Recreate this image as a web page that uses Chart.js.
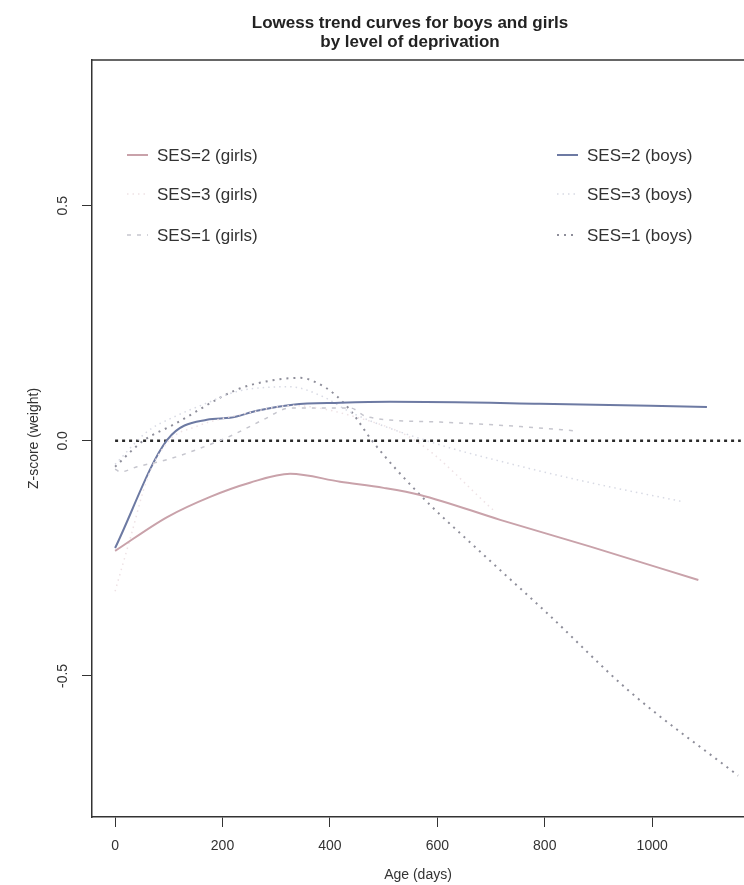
<!DOCTYPE html>
<html>
<head>
<meta charset="utf-8">
<script src="https://cdn.jsdelivr.net/npm/chart.js@4.4.0/dist/chart.umd.min.js"></script>
<style>
    html, body { margin: 0; padding: 0; background: #ffffff; }
    #wrap { width: 744px; height: 885px; }
</style>
</head>
<body>
<div id="wrap"><canvas id="lowessGrafico"></canvas></div>
<script>
const title_lines = ['Lowess trend curves for boys and girls', 'by level of deprivation'];
const x_ticks = [0, 200, 400, 600, 800, 1000];
const y_ticks = [-0.5, 0.0, 0.5];

// SES=2 girls
const girls2_age = [0, 97, 177, 251, 326, 419, 500, 568, 717, 885, 1086];
const girls2_z = [-0.234, -0.162, -0.119, -0.089, -0.070, -0.087, -0.100, -0.115, -0.168, -0.225, -0.296];

// SES=3 girls (very faint)
const girls3_age = [0, 30, 60, 100, 150, 250, 330, 450, 560, 704];
const girls3_z = [-0.32, -0.20, -0.08, 0.0, 0.03, 0.06, 0.075, 0.05, 0.0, -0.147];

// SES=1 girls
const girls1_age = [0, 10, 41, 97, 158, 220, 276, 326, 438, 469, 605, 760, 860];
const girls1_z = [-0.06, -0.066, -0.055, -0.040, -0.016, 0.013, 0.045, 0.070, 0.070, 0.051, 0.040, 0.030, 0.021];

// SES=2 boys
const boys2_age = [0, 97, 171, 214, 264, 331, 419, 512, 791, 1102];
const boys2_z = [-0.228, 0.002, 0.045, 0.049, 0.064, 0.077, 0.081, 0.083, 0.079, 0.072];

// SES=3 boys
const boys3_age = [0, 60, 108, 170, 227, 326, 387, 440, 592, 730, 885, 1060];
const boys3_z = [-0.05, 0.02, 0.05, 0.08, 0.105, 0.115, 0.094, 0.060, -0.004, -0.047, -0.089, -0.130];

// SES=1 boys
const boys1_age = [0, 52, 108, 227, 289, 345, 375, 410, 440, 480, 568, 680, 804, 959, 1160];
const boys1_z = [-0.055, 0.0, 0.034, 0.109, 0.128, 0.134, 0.124, 0.098, 0.062, -0.002, -0.115, -0.236, -0.366, -0.534, -0.712];

// reference line at zero
const zero_age = [0, 1165];
const zero_z = [0, 0];

function pairs(ages, zs) {
    return ages.map((a, i) => ({ x: a, y: zs[i] }));
}

const font_name = "'Liberation Sans', Arial, sans-serif";
const ink = '#333333';

const data_lowess = {
    datasets: [
        { label: 'SES=2 (girls)', data: pairs(girls2_age, girls2_z), borderColor: '#c9a2aa', borderWidth: 2 },
        { label: 'SES=3 (girls)', data: pairs(girls3_age, girls3_z), borderColor: '#eee2e5', borderWidth: 1.5, borderDash: [1.5, 4] },
        { label: 'SES=1 (girls)', data: pairs(girls1_age, girls1_z), borderColor: '#c6c6ce', borderWidth: 1.5, borderDash: [4, 6] },
        { label: 'SES=2 (boys)', data: pairs(boys2_age, boys2_z), borderColor: '#6d7aa3', borderWidth: 2 },
        { label: 'SES=3 (boys)', data: pairs(boys3_age, boys3_z), borderColor: '#d8dae4', borderWidth: 1.5, borderDash: [1.5, 4] },
        { label: 'SES=1 (boys)', data: pairs(boys1_age, boys1_z), borderColor: '#8e8e9a', borderWidth: 2, borderDash: [2, 5] },
        { label: '', data: pairs(zero_age, zero_z), borderColor: '#2a2a2a', borderWidth: 2.5, borderDash: [3, 4] }
    ]
};

// frame, title, legend and rotated y labels like the R plot
const extras_plugin = {
    id: 'extras',
    afterDraw(chart) {
        const ctx = chart.ctx;
        const area = chart.chartArea;
        ctx.save();

        // top side of the frame
        ctx.strokeStyle = ink;
        ctx.lineWidth = 1.5;
        ctx.beginPath();
        ctx.moveTo(area.left, area.top);
        ctx.lineTo(chart.width, area.top);
        ctx.stroke();

        // title
        ctx.fillStyle = '#222222';
        ctx.textAlign = 'center';
        ctx.textBaseline = 'middle';
        ctx.font = 'bold 17px ' + font_name;
        ctx.fillText(title_lines[0], 410, 23);
        ctx.fillText(title_lines[1], 410, 42);

        // y tick labels, read bottom to top
        const ys = chart.scales.y;
        ctx.font = '14px ' + font_name;
        ctx.fillStyle = ink;
        y_ticks.forEach(v => {
            ctx.save();
            ctx.translate(63, ys.getPixelForValue(v));
            ctx.rotate(-Math.PI / 2);
            ctx.fillText(v.toFixed(1), 0, 0);
            ctx.restore();
        });

        // legend: girls on the left, boys on the right
        const rows = [155, 194, 235];
        ctx.font = '17px ' + font_name;
        ctx.textAlign = 'left';
        chart.data.datasets.slice(0, 6).forEach((ds, i) => {
            const x0 = i < 3 ? 127 : 557;
            const y0 = rows[i % 3];
            ctx.strokeStyle = ds.borderColor;
            ctx.lineWidth = ds.borderWidth;
            ctx.setLineDash(ds.borderDash || []);
            ctx.beginPath();
            ctx.moveTo(x0, y0);
            ctx.lineTo(x0 + 21, y0);
            ctx.stroke();
            ctx.setLineDash([]);
            ctx.fillStyle = ink;
            ctx.fillText(ds.label, x0 + 30, y0 + 1);
        });
        ctx.restore();
    }
};

const lowess_config = {
    type: 'line',
    data: data_lowess,
    plugins: [extras_plugin],
    options: {
        responsive: true,
        maintainAspectRatio: false,
        animation: false,
        layout: { padding: { top: 60, right: 0, bottom: 0, left: 0 } },
        elements: {
            point: { radius: 0 },
            line: { cubicInterpolationMode: 'monotone', fill: false }
        },
        scales: {
            x: {
                type: 'linear',
                min: -43,
                max: 1171,
                afterBuildTicks: s => { s.ticks = x_ticks.map(v => ({ value: v })); },
                afterFit: s => { s.height = 68; },
                grid: { drawOnChartArea: false, drawTicks: true, tickLength: 10, color: ink, lineWidth: 1 },
                border: { display: true, color: ink, width: 1.5 },
                ticks: {
                    color: ink,
                    padding: 11,
                    maxRotation: 0,
                    callback: v => String(v),
                    font: { size: 14, family: font_name }
                },
                title: {
                    display: true,
                    text: 'Age (days)',
                    color: ink,
                    padding: { top: 0, bottom: 1 },
                    font: { size: 14, family: font_name }
                }
            },
            y: {
                type: 'linear',
                min: -0.80,
                max: 0.81,
                afterBuildTicks: s => { s.ticks = y_ticks.map(v => ({ value: v })); },
                afterFit: s => { s.width = 92; },
                grid: { drawOnChartArea: false, drawTicks: true, tickLength: 10, color: ink, lineWidth: 1 },
                border: { display: true, color: ink, width: 1.5 },
                ticks: { display: false },
                title: {
                    display: true,
                    text: 'Z-score (weight)',
                    color: ink,
                    padding: { top: 26, bottom: 0 },
                    font: { size: 14, family: font_name }
                }
            }
        },
        plugins: {
            legend: { display: false },
            tooltip: { enabled: false },
            title: { display: false }
        }
    }
};

const grafico_lowess = new Chart(document.getElementById('lowessGrafico'), lowess_config);
</script>
</body>
</html>
